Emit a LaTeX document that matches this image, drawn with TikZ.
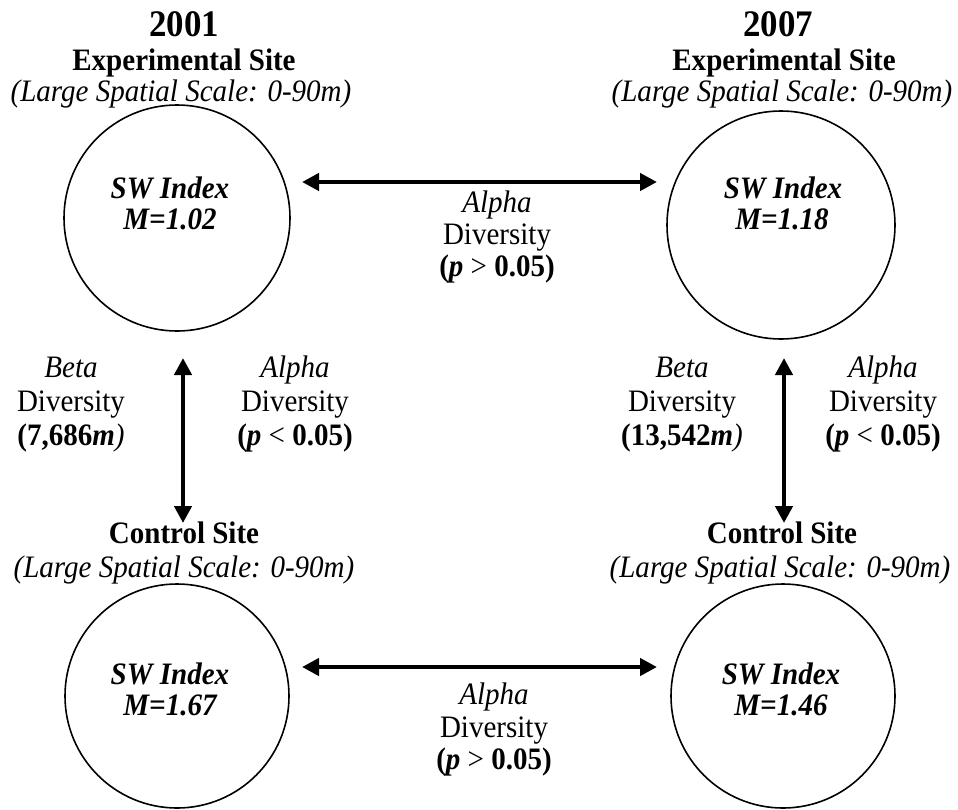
\documentclass[tikz,border=0pt]{standalone}
\usepackage{fontspec}
\setmainfont{Liberation Serif}[FakeStretch=0.93]
\usetikzlibrary{arrows.meta}
\begin{document}
\begin{tikzpicture}[x=1pt,y=-1pt,
  txt/.style={font=\fontsize{31.2}{36}\selectfont, inner sep=0pt, anchor=base},
  yr/.style={font=\fontsize{37.5}{42}\selectfont\bfseries, inner sep=0pt, anchor=base},
  head/.style={txt, font=\fontsize{31.2}{36}\selectfont\bfseries},
  rangetext/.style={txt, font=\fontsize{31.2}{36}\selectfont\itshape},
  swtext/.style={txt, font=\fontsize{31.2}{36}\selectfont\bfseries\itshape},
  site/.style={circle, draw, line width=1.6pt, inner sep=0pt},
  link/.style={line width=4.8pt,
    {Triangle[length=17pt,width=17pt]}-{Triangle[length=17pt,width=17pt]}}]
\useasboundingbox (0,0) rectangle (958,809);

% ---- 2001, experimental site ----
\node[yr]        (y1)  at (184,36)  {2001};
\node[head]      (h1)  at (184,70)  {Experimental Site};
\node[rangetext] (s1)  at (181,101) {(Large Spatial Scale: 0-90m)};
\node[site, minimum size=226pt] (e1) at (177,218) {};
\node[swtext] (e1a) at (170,198) {SW Index};
\node[swtext] (e1b) at (170,229) {M=1.02};

% ---- 2007, experimental site ----
\node[yr]        (y2)  at (778,36)  {2007};
\node[head]      (h2)  at (784,70)  {Experimental Site};
\node[rangetext] (s2)  at (782,101) {(Large Spatial Scale: 0-90m)};
\node[site, minimum size=228pt] (e2) at (781,225) {};
\node[swtext] (e2a) at (783,198) {SW Index};
\node[swtext] (e2b) at (782,229) {M=1.18};

% ---- 2001, control site ----
\node[head]      (h3)  at (184,543) {Control Site};
\node[rangetext] (s3)  at (184,577) {(Large Spatial Scale: 0-90m)};
\node[site, minimum size=224pt] (c1) at (177,696) {};
\node[swtext] (c1a) at (170,684) {SW Index};
\node[swtext] (c1b) at (170,715) {M=1.67};

% ---- 2007, control site ----
\node[head]      (h4)  at (782,543) {Control Site};
\node[rangetext] (s4)  at (780,577) {(Large Spatial Scale: 0-90m)};
\node[site, minimum size=224pt] (c2) at (783,696) {};
\node[swtext] (c2a) at (781,684) {SW Index};
\node[swtext] (c2b) at (781,715) {M=1.46};

% ---- connectors ----
\coordinate (t1) at (302,182);
\coordinate (t2) at (657,182);
\coordinate (b1) at (302,667);
\coordinate (b2) at (657,667);
\coordinate (l1) at (183,358);
\coordinate (l2) at (183,523);
\coordinate (r1) at (784,358);
\coordinate (r2) at (784,523);
\draw[link] (t1) -- (t2);
\draw[link] (b1) -- (b2);
\draw[link] (l1) -- (l2);
\draw[link] (r1) -- (r2);

% ---- top: alpha diversity between years ----
\node[txt] (ta1) at (497,212) {\textit{Alpha}};
\node[txt] (ta2) at (497,244) {Diversity};
\node[txt] (ta3) at (497,276) {\textbf{(\textit{p}} > \textbf{0.05)}};

% ---- bottom: alpha diversity between years ----
\node[txt] (ba1) at (494,704) {\textit{Alpha}};
\node[txt] (ba2) at (494,737) {Diversity};
\node[txt] (ba3) at (494,769) {\textbf{(\textit{p}} > \textbf{0.05)}};

% ---- 2001: beta and alpha diversity ----
\node[txt] (lb1) at (71,377) {\textit{Beta}};
\node[txt] (lb2) at (71,411) {Diversity};
\node[txt] (lb3) at (71,445) {\textbf{(7,686\textit{m}}\textit{)}};
\node[txt] (la1) at (295,377) {\textit{Alpha}};
\node[txt] (la2) at (295,411) {Diversity};
\node[txt] (la3) at (295,445) {\textbf{(\textit{p}} < \textbf{0.05)}};

% ---- 2007: beta and alpha diversity ----
\node[txt] (rb1) at (682,377) {\textit{Beta}};
\node[txt] (rb2) at (682,411) {Diversity};
\node[txt] (rb3) at (682,445) {\textbf{(13,542\textit{m}}\textit{)}};
\node[txt] (ra1) at (883,377) {\textit{Alpha}};
\node[txt] (ra2) at (883,411) {Diversity};
\node[txt] (ra3) at (883,445) {\textbf{(\textit{p}} < \textbf{0.05)}};
\end{tikzpicture}
\end{document}
